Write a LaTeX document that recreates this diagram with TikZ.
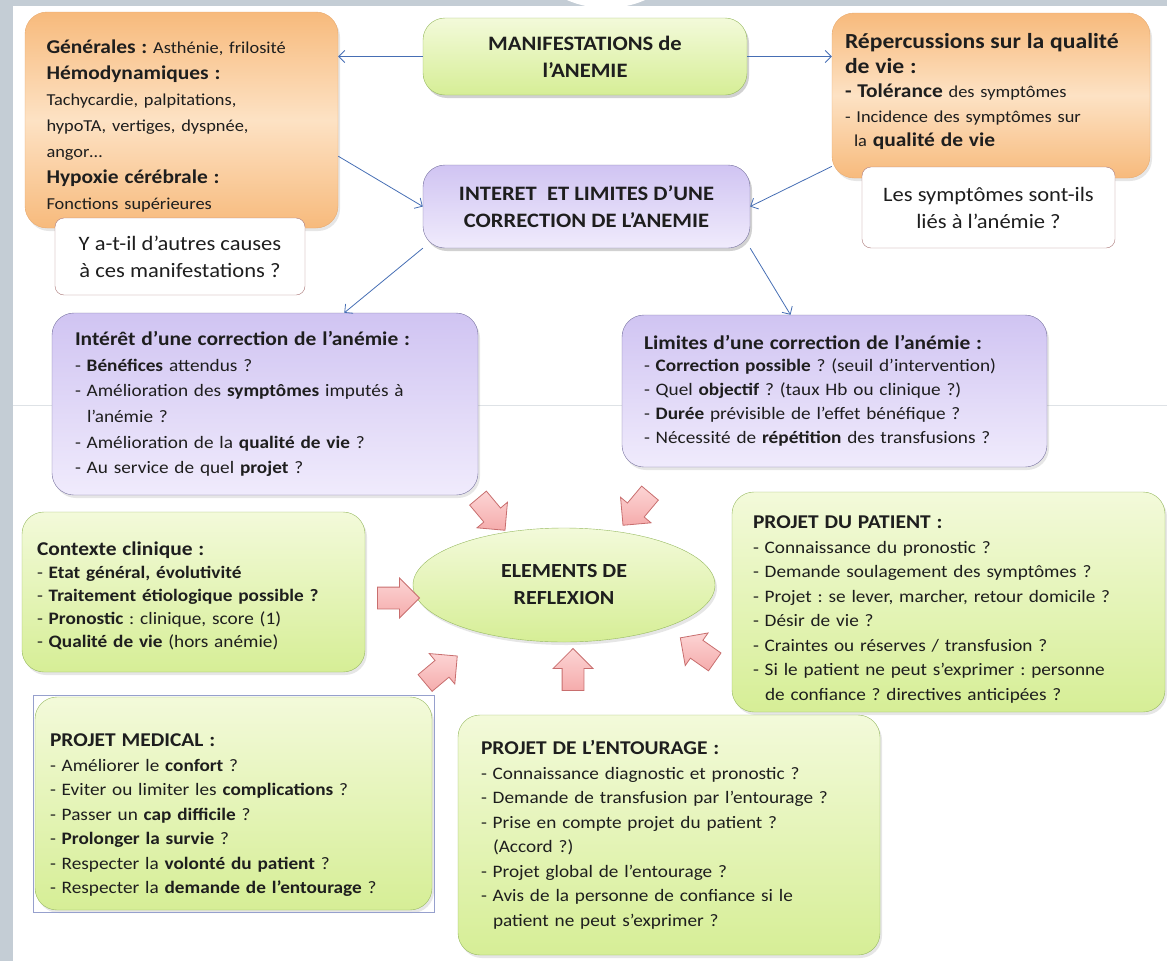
\documentclass[tikz,border=0pt]{standalone}
\usepackage{fontspec}
\setmainfont{Carlito}[FakeStretch=1.1]
\usepackage{xcolor}
\usepackage{tikz}
\usetikzlibrary{arrows.meta, positioning, shapes.geometric, shapes.arrows, shadows, fit}
\definecolor{ink}{RGB}{30,30,30}
\definecolor{framegray}{RGB}{196,205,213}
\definecolor{faintline}{RGB}{222,226,230}
\definecolor{orangetop}{RGB}{247,186,124}
\definecolor{orangemid}{RGB}{253,226,196}
\definecolor{orangeedge}{RGB}{232,170,110}
\definecolor{greentop}{RGB}{243,250,218}
\definecolor{greenbot}{RGB}{214,238,150}
\definecolor{greenedge}{RGB}{150,185,95}
\definecolor{lilactop}{RGB}{208,196,242}
\definecolor{lilacbot}{RGB}{240,235,252}
\definecolor{lilacedge}{RGB}{120,115,160}
\definecolor{noteedge}{RGB}{170,120,120}
\definecolor{linkblue}{RGB}{70,110,180}
\definecolor{pinktop}{RGB}{252,212,212}
\definecolor{pinkbot}{RGB}{245,172,172}
\definecolor{pinkedge}{RGB}{200,110,110}
\definecolor{selblue}{RGB}{150,160,205}
\newcommand\boxhead{\bfseries\fontsize{19.5}{25}\selectfont}
\newcommand\smalltxt{\fontsize{16.7}{24}\selectfont}
% strut that pushes a text block down (#1 = extra room on top)
\newcommand\topgap[1]{\rule{0pt}{#1}}
\frenchspacing

\begin{document}
\begin{tikzpicture}[x=1pt, y=-1pt,
    box/.style      ={rectangle, rounded corners=22pt, inner xsep=25pt, inner ysep=0pt, align=left, text=ink,
                      font=\fontsize{17.5}{24.5}\selectfont,
                      drop shadow={opacity=0.2, shadow xshift=2pt, shadow yshift=-3pt}},
    orangebox/.style={box, draw=orangeedge, top color=orangetop, bottom color=orangetop, middle color=orangemid},
    greenbox/.style ={box, draw=greenedge, top color=greentop, bottom color=greenbot},
    lilacbox/.style ={box, draw=lilacedge, top color=lilactop, bottom color=lilacbot},
    notebox/.style  ={rectangle, rounded corners=9pt, draw=noteedge, fill=white, align=center, text=ink,
                      font=\fontsize{20.5}{27}\selectfont, inner sep=0pt},
    titlebox/.style ={box, align=center, font=\bfseries\fontsize{20.5}{27}\selectfont},
    link/.style     ={-{Straight Barb[length=6pt, width=12pt]}, linkblue, line width=0.8pt},
    blockarr/.style ={single arrow, draw=pinkedge, top color=pinktop, bottom color=pinkbot,
                      inner xsep=0pt, inner ysep=10.5pt, minimum height=42pt,
                      single arrow head extend=9pt, single arrow tip angle=90, line width=0.8pt}
]
\useasboundingbox (0,0) rectangle (1167,961);
% --- screen frame ---
\fill[framegray] (0,0) rectangle (13,961);
\fill[framegray] (0,0) rectangle (1167,6);
\fill[white] (606,-90.4) circle (98.5);
\draw[faintline, line width=0.8pt] (13,405) -- (1167,405);

% ============ manifestations ============
\node[orangebox, minimum width=313pt, minimum height=216pt, text width=270pt, inner xsep=21.5pt] (gen) at (181.5,120)
  {\topgap{26pt}{\boxhead Générales :} {\smalltxt Asthénie, frilosité}\\[1.5pt]
   {\boxhead Hémodynamiques :}\\[1.5pt]
   {\smalltxt Tachycardie, palpitations,}\\[1.5pt]
   {\smalltxt hypoTA, vertiges, dyspnée,}\\[1.5pt]
   {\smalltxt angor…}\\[1.5pt]
   {\boxhead Hypoxie cérébrale :}\\[1.5pt]
   {\smalltxt Fonctions supérieures}};
\node[notebox, minimum width=250pt, minimum height=77pt] (gencause) at (180,256.5)
  {Y a-t-il d’autres causes\\à ces manifestations ?};

\node[greenbox, titlebox, minimum width=324pt, minimum height=77pt] (manif) at (585,56.5)
  {MANIFESTATIONS de\\l’ANEMIE};

\node[orangebox, minimum width=318pt, minimum height=165pt, text width=292pt, inner xsep=0pt] (rep) at (991,95.5)
  {\mbox{\bfseries\fontsize{21.5}{25}\selectfont Répercussions sur la qualité}\\
   {\bfseries\fontsize{21.5}{25}\selectfont de vie :}\\
   {\boxhead - Tolérance} {\smalltxt des symptômes}\\
   {\smalltxt - Incidence des symptômes sur}\\
   \hspace*{9pt}{\smalltxt la} {\boxhead qualité de vie}\rule[-11pt]{0pt}{0pt}};
\node[notebox, minimum width=253pt, minimum height=81pt] (repcause) at (988.5,207.5)
  {Les symptômes sont-ils\\liés à l’anémie ?};

\node[lilacbox, titlebox, minimum width=327pt, minimum height=83pt] (interet) at (586.5,206.5)
  {INTERET\ \ ET LIMITES D’UNE\\CORRECTION DE L’ANEMIE};

% --- thin blue links ---
\draw[link] (manif.west) -- (gen.east |- manif.west);
\draw[link] (manif.east) -- (rep.west |- manif.east);
\draw[link] (gen.-13) -- (interet.west);
\draw[link] (rep.204) -- (interet.east);

% ============ interest and limits ============
\node[lilacbox, minimum width=426pt, minimum height=182pt, text width=380pt, inner xsep=23pt,
      font=\fontsize{17.5}{25.6}\selectfont] (interest) at (265,404)
  {{\boxhead Intérêt d’une correction de l’anémie :}\\
   - \textbf{Bénéfices} attendus ?\\
   - Amélioration des \textbf{symptômes} imputés à\\
   \hspace*{12pt}l’anémie ?\\
   - Amélioration de la \textbf{qualité de vie} ?\\
   - Au service de quel \textbf{projet} ?};
\node[lilacbox, minimum width=425pt, minimum height=152pt, text width=381pt, inner xsep=22pt,
      font=\fontsize{17.5}{24}\selectfont] (limites) at (834.5,391)
  {{\boxhead Limites d’une correction de l’anémie :}\\[-2pt]
   - \textbf{Correction possible} ? (seuil d’intervention)\\
   - Quel \textbf{objectif} ? (taux Hb ou clinique ?)\\
   - \textbf{Durée} prévisible de l’effet bénéfique ?\\
   - Nécessité de \textbf{répétition} des transfusions ?};
\draw[link] (interet.south west) -- (interest.49);
\draw[link] (interet.south east) -- (limites.120);

% ============ elements de reflexion ============
\node[ellipse, draw=greenedge, top color=greentop, bottom color=greenbot, minimum width=302pt, minimum height=114pt,
      align=center, text=ink, font=\bfseries\fontsize{20}{27}\selectfont,
      drop shadow={opacity=0.2, shadow xshift=2pt, shadow yshift=-3pt}] (reflex) at (564,585)
  {ELEMENTS DE\\REFLEXION};

\node[greenbox, minimum width=343pt, minimum height=160pt, text width=313pt, inner xsep=15pt,
      font=\fontsize{17.5}{23}\selectfont] (contexte) at (193.5,592)
  {\topgap{22pt}{\boxhead Contexte clinique :}\\
   - \textbf{Etat général, évolutivité}\\
   - \textbf{Traitement étiologique possible ?}\\
   - \textbf{Pronostic} : clinique, score (1)\\
   - \textbf{Qualité de vie} (hors anémie)};

\node[greenbox, minimum width=397pt, minimum height=213pt, text width=367pt, inner xsep=15pt] (medical) at (233.5,803.5)
  {\topgap{36pt}{\boxhead PROJET MEDICAL :}\\
   - Améliorer le \textbf{confort} ?\\
   - Eviter ou limiter les \textbf{complications} ?\\
   - Passer un \textbf{cap difficile} ?\\
   - \textbf{Prolonger la survie} ?\\
   - Respecter la \textbf{volonté du patient} ?\\
   - Respecter la \textbf{demande de l’entourage} ?};
\node[draw=selblue, line width=0.5pt, fit=(medical), inner sep=2pt] (medframe) {};

\node[greenbox, minimum width=433pt, minimum height=220pt, text width=391pt, inner xsep=21pt] (patient) at (948.5,602)
  {\topgap{28pt}{\boxhead PROJET DU PATIENT :}\\
   - Connaissance du pronostic ?\\
   - Demande soulagement des symptômes ?\\
   - Projet : se lever, marcher, retour domicile ?\\
   - Désir de vie ?\\
   - Craintes ou réserves / transfusion ?\\
   - Si le patient ne peut s’exprimer : personne\\
   \hspace*{12pt}de confiance ? directives anticipées ?};

\node[greenbox, minimum width=422pt, minimum height=240pt, text width=376pt, inner xsep=23pt] (entourage) at (669,835)
  {{\boxhead PROJET DE L’ENTOURAGE :}\\
   - Connaissance diagnostic et pronostic ?\\
   - Demande de transfusion par l’entourage ?\\
   - Prise en compte projet du patient ?\\
   \hspace*{12pt}(Accord ?)\\
   - Projet global de l’entourage ?\\
   - Avis de la personne de confiance si le\\
   \hspace*{12pt}patient ne peut s’exprimer ?};

% --- pink block arrows toward the ellipse ---
\node[blockarr, rotate=-50]  (fromint) at (488,510) {};
\node[blockarr, rotate=-130] (fromlim) at (640,505) {};
\node[blockarr, rotate=0]    (fromctx) at (393,598) {};
\node[blockarr, rotate=40]   (frommed) at (437,673) {};
\node[blockarr, rotate=90]   (froment) at (573,675) {};
\node[blockarr, rotate=145]  (frompat) at (702,653) {};
\end{tikzpicture}
\end{document}
